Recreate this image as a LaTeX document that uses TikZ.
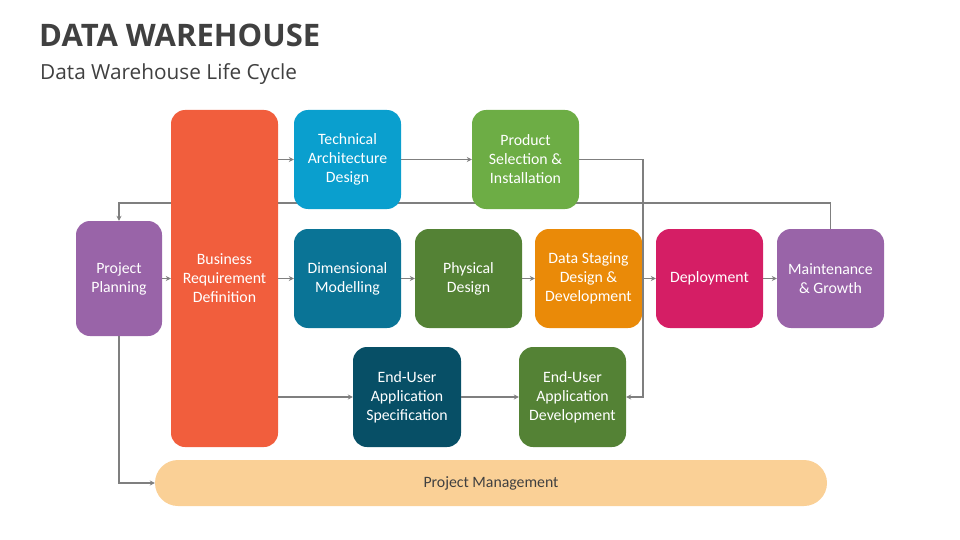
\documentclass[tikz,border=0pt]{standalone}
\usepackage{fontspec}
\setmainfont{Carlito}
\newfontfamily\osans{Open Sans}
\usetikzlibrary{arrows.meta,backgrounds}
\definecolor{cpurple}{HTML}{9964A8}
\definecolor{corange}{HTML}{F15E3D}
\definecolor{cblue}{HTML}{0A9FCE}
\definecolor{cgreen}{HTML}{6DAD45}
\definecolor{cteal}{HTML}{0A7496}
\definecolor{cdgreen}{HTML}{548235}
\definecolor{camber}{HTML}{EA8A08}
\definecolor{cmagenta}{HTML}{D51E65}
\definecolor{cnavy}{HTML}{074F66}
\definecolor{cpeach}{HTML}{FAD096}
\definecolor{cline}{HTML}{7F7F7F}
\definecolor{ctext}{HTML}{404040}
\tikzset{
  box/.style={rounded corners=14pt, inner sep=0pt, text=white, align=center,
    font=\fontsize{15.8}{19}\selectfont, minimum width=107pt, minimum height=99pt},
  conn/.style={draw=cline, line width=1.8pt},
  arr/.style={conn, -{Stealth[length=5pt,width=5pt]}}
}
\begin{document}
\begin{tikzpicture}[x=1pt,y=-1pt]
\useasboundingbox (0,0) rectangle (960,540);
\node[anchor=base west, inner sep=0pt, text=ctext, font=\osans\bfseries\fontsize{31}{36}\selectfont] (title) at (39,46.5) {DATA WAREHOUSE};
\node[anchor=base west, inner sep=0pt, text=ctext, font=\osans\fontsize{20.8}{24}\selectfont] (sub) at (40,80) {Data Warehouse Life Cycle};

\node[box, fill=cpurple, minimum width=86pt, minimum height=115pt] (pp) at (119,278.5) {Project\\Planning};
\node[box, fill=corange, minimum height=337pt] (brd) at (224.5,278.5) {Business\\Requirement\\Definition};
\node[box, fill=cblue] (tad) at (347.5,159.5) {Technical\\Architecture\\Design};
\node[box, fill=cgreen] (psi) at (525.5,159.5) {Product\\Selection \&\\Installation};
\node[box, fill=cteal] (dm) at (347.5,278.5) {Dimensional\\Modelling};
\node[box, fill=cdgreen] (pd) at (468.5,278.5) {Physical\\Design};
\node[box, fill=camber] (ds) at (588.5,278.5) {Data Staging\\Design \&\\Development};
\node[box, fill=cmagenta] (dep) at (709.5,278.5) {Deployment};
\node[box, fill=cpurple] (mg) at (830.5,278.5) {Maintenance\\\& Growth};
\node[box, fill=cnavy, minimum width=108pt, minimum height=100pt] (euas) at (407,397) {End-User\\Application\\Specification};
\node[box, fill=cdgreen, minimum height=100pt] (euad) at (572.5,397) {End-User\\Application\\Development};
\node[box, fill=cpeach, text=ctext, rounded corners=23pt, minimum width=672pt, minimum height=46pt] (pm) at (491,483) {Project Management};

\coordinate (fb) at (0,203);
\coordinate (rx) at (643,0);
\begin{scope}[on background layer]
\draw[arr] (mg.north) -- (mg.north |- fb) -| (pp.north);
\end{scope}
\draw[arr] (pp.east) -- (brd.west);
\draw[arr] (brd.east |- tad.west) -- (tad.west);
\draw[arr] (brd.east) -- (dm.west);
\draw[arr] (brd.east |- euas.west) -- (euas.west);
\draw[arr] (tad.east) -- (psi.west);
\draw[arr] (dm.east) -- (pd.west);
\draw[arr] (pd.east) -- (ds.west);
\draw[arr] (ds.east) -- (dep.west);
\draw[arr] (dep.east) -- (mg.west);
\draw[arr] (euas.east) -- (euad.west);
\draw[arr] (psi.east) -- (psi.east -| rx) |- (euad.east);
\draw[arr] (pp.south) |- (pm.west);
\end{tikzpicture}
\end{document}
